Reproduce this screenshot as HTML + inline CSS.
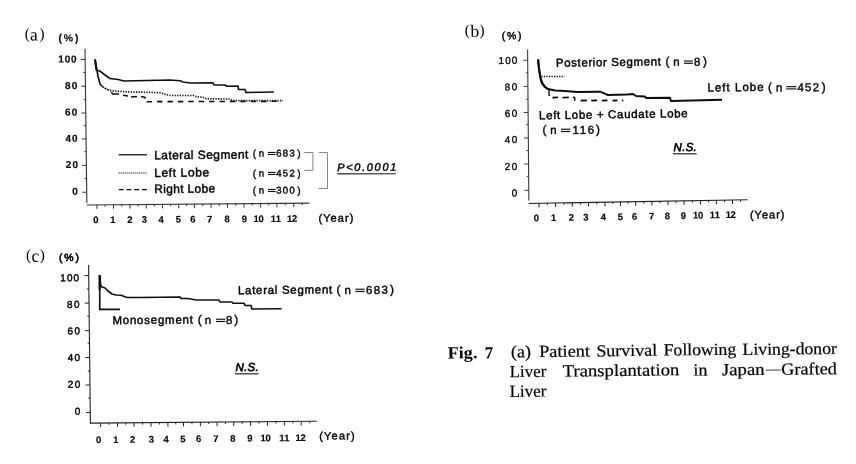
<!DOCTYPE html>
<html lang="en">
<head>
<meta charset="utf-8">
<title>Fig. 7 Patient Survival Following Living-donor Liver Transplantation in Japan - Grafted Liver</title>
<style>
html,body{margin:0;padding:0;background:#fff;}
body{width:856px;height:464px;overflow:hidden;font-family:"Liberation Sans",sans-serif;}
svg{display:block;position:absolute;left:0;top:0;}
svg text{font-family:"Liberation Sans",sans-serif;fill:#000;white-space:pre;}
svg text.sf{font-family:"Liberation Serif",serif;}
</style>
</head>
<body>
<svg width="856" height="464" viewBox="0 0 856 464" text-rendering="geometricPrecision">
<defs><filter id="soft" x="0" y="0" width="856" height="464" filterUnits="userSpaceOnUse"><feGaussianBlur stdDeviation="0.38"/></filter></defs>
<rect x="0" y="0" width="856" height="464" fill="#ffffff"/>
<g filter="url(#soft)">
<line x1="85.00" y1="48.80" x2="86.85" y2="203.00" stroke="#333" stroke-width="1.1"/>
<line x1="86.70" y1="205.00" x2="309.40" y2="203.10" stroke="#333" stroke-width="1.1"/>
<line x1="80.83" y1="59.50" x2="85.13" y2="59.50" stroke="#333" stroke-width="1.0"/>
<line x1="81.15" y1="86.20" x2="85.45" y2="86.20" stroke="#333" stroke-width="1.0"/>
<line x1="81.47" y1="113.00" x2="85.77" y2="113.00" stroke="#333" stroke-width="1.0"/>
<line x1="81.78" y1="138.90" x2="86.08" y2="138.90" stroke="#333" stroke-width="1.0"/>
<line x1="82.10" y1="165.40" x2="86.40" y2="165.40" stroke="#333" stroke-width="1.0"/>
<line x1="82.42" y1="192.25" x2="86.72" y2="192.25" stroke="#333" stroke-width="1.0"/>
<line x1="83.38" y1="72.50" x2="85.28" y2="72.50" stroke="#333" stroke-width="1.0"/>
<line x1="83.71" y1="99.40" x2="85.61" y2="99.40" stroke="#333" stroke-width="1.0"/>
<line x1="84.02" y1="125.60" x2="85.92" y2="125.60" stroke="#333" stroke-width="1.0"/>
<line x1="84.33" y1="151.60" x2="86.23" y2="151.60" stroke="#333" stroke-width="1.0"/>
<line x1="84.66" y1="178.50" x2="86.56" y2="178.50" stroke="#333" stroke-width="1.0"/>
<line x1="96.90" y1="204.91" x2="96.90" y2="208.91" stroke="#333" stroke-width="1.0"/>
<line x1="113.50" y1="204.77" x2="113.50" y2="208.77" stroke="#333" stroke-width="1.0"/>
<line x1="130.00" y1="204.63" x2="130.00" y2="208.63" stroke="#333" stroke-width="1.0"/>
<line x1="146.25" y1="204.49" x2="146.25" y2="208.49" stroke="#333" stroke-width="1.0"/>
<line x1="162.50" y1="204.35" x2="162.50" y2="208.35" stroke="#333" stroke-width="1.0"/>
<line x1="178.75" y1="204.21" x2="178.75" y2="208.21" stroke="#333" stroke-width="1.0"/>
<line x1="194.40" y1="204.08" x2="194.40" y2="208.08" stroke="#333" stroke-width="1.0"/>
<line x1="211.00" y1="203.94" x2="211.00" y2="207.94" stroke="#333" stroke-width="1.0"/>
<line x1="227.50" y1="203.80" x2="227.50" y2="207.80" stroke="#333" stroke-width="1.0"/>
<line x1="244.00" y1="203.66" x2="244.00" y2="207.66" stroke="#333" stroke-width="1.0"/>
<line x1="260.60" y1="203.52" x2="260.60" y2="207.52" stroke="#333" stroke-width="1.0"/>
<line x1="276.90" y1="203.38" x2="276.90" y2="207.38" stroke="#333" stroke-width="1.0"/>
<line x1="293.75" y1="203.23" x2="293.75" y2="207.23" stroke="#333" stroke-width="1.0"/>
<line x1="105.20" y1="204.84" x2="105.20" y2="206.74" stroke="#333" stroke-width="1.0"/>
<line x1="121.75" y1="204.70" x2="121.75" y2="206.60" stroke="#333" stroke-width="1.0"/>
<line x1="138.12" y1="204.56" x2="138.12" y2="206.46" stroke="#333" stroke-width="1.0"/>
<line x1="154.38" y1="204.42" x2="154.38" y2="206.32" stroke="#333" stroke-width="1.0"/>
<line x1="170.62" y1="204.28" x2="170.62" y2="206.18" stroke="#333" stroke-width="1.0"/>
<line x1="186.57" y1="204.15" x2="186.57" y2="206.05" stroke="#333" stroke-width="1.0"/>
<line x1="202.70" y1="204.01" x2="202.70" y2="205.91" stroke="#333" stroke-width="1.0"/>
<line x1="219.25" y1="203.87" x2="219.25" y2="205.77" stroke="#333" stroke-width="1.0"/>
<line x1="235.75" y1="203.73" x2="235.75" y2="205.63" stroke="#333" stroke-width="1.0"/>
<line x1="252.30" y1="203.59" x2="252.30" y2="205.49" stroke="#333" stroke-width="1.0"/>
<line x1="268.75" y1="203.45" x2="268.75" y2="205.35" stroke="#333" stroke-width="1.0"/>
<line x1="285.32" y1="203.31" x2="285.32" y2="205.21" stroke="#333" stroke-width="1.0"/>
<line x1="302.25" y1="203.16" x2="302.25" y2="205.06" stroke="#333" stroke-width="1.0"/>
<text x="58.30" y="62.50" font-size="10.0" font-weight="bold" textLength="18.30" lengthAdjust="spacing" stroke="#000" stroke-width="0.14" transform="rotate(-0.5 58.30 62.50)">100</text>
<text x="65.10" y="89.10" font-size="10.0" font-weight="bold" textLength="12.20" lengthAdjust="spacing" stroke="#000" stroke-width="0.14" transform="rotate(-0.5 65.10 89.10)">80</text>
<text x="65.10" y="115.60" font-size="10.0" font-weight="bold" textLength="12.20" lengthAdjust="spacing" stroke="#000" stroke-width="0.14" transform="rotate(-0.5 65.10 115.60)">60</text>
<text x="65.50" y="141.90" font-size="10.0" font-weight="bold" textLength="12.20" lengthAdjust="spacing" stroke="#000" stroke-width="0.14" transform="rotate(-0.5 65.50 141.90)">40</text>
<text x="65.85" y="168.00" font-size="10.0" font-weight="bold" textLength="12.20" lengthAdjust="spacing" stroke="#000" stroke-width="0.14" transform="rotate(-0.5 65.85 168.00)">20</text>
<text x="77.85" y="194.75" font-size="10.0" font-weight="bold" text-anchor="end" stroke="#000" stroke-width="0.14" transform="rotate(-0.5 77.85 194.75)">0</text>
<text x="95.90" y="223.10" font-size="9.5" font-weight="bold" text-anchor="middle" stroke="#000" stroke-width="0.14" transform="rotate(-0.5 95.90 223.10)">0</text>
<text x="113.00" y="223.00" font-size="9.5" font-weight="bold" text-anchor="middle" stroke="#000" stroke-width="0.14" transform="rotate(-0.5 113.00 223.00)">1</text>
<text x="130.00" y="222.89" font-size="9.5" font-weight="bold" text-anchor="middle" stroke="#000" stroke-width="0.14" transform="rotate(-0.5 130.00 222.89)">2</text>
<text x="144.40" y="222.80" font-size="9.5" font-weight="bold" text-anchor="middle" stroke="#000" stroke-width="0.14" transform="rotate(-0.5 144.40 222.80)">3</text>
<text x="161.25" y="222.70" font-size="9.5" font-weight="bold" text-anchor="middle" stroke="#000" stroke-width="0.14" transform="rotate(-0.5 161.25 222.70)">4</text>
<text x="178.40" y="222.60" font-size="9.5" font-weight="bold" text-anchor="middle" stroke="#000" stroke-width="0.14" transform="rotate(-0.5 178.40 222.60)">5</text>
<text x="193.00" y="222.51" font-size="9.5" font-weight="bold" text-anchor="middle" stroke="#000" stroke-width="0.14" transform="rotate(-0.5 193.00 222.51)">6</text>
<text x="209.75" y="222.41" font-size="9.5" font-weight="bold" text-anchor="middle" stroke="#000" stroke-width="0.14" transform="rotate(-0.5 209.75 222.41)">7</text>
<text x="227.25" y="222.30" font-size="9.5" font-weight="bold" text-anchor="middle" stroke="#000" stroke-width="0.14" transform="rotate(-0.5 227.25 222.30)">8</text>
<text x="244.40" y="222.19" font-size="9.5" font-weight="bold" text-anchor="middle" stroke="#000" stroke-width="0.14" transform="rotate(-0.5 244.40 222.19)">9</text>
<text x="253.60" y="222.11" font-size="9.5" font-weight="bold" textLength="10.20" lengthAdjust="spacing" stroke="#000" stroke-width="0.14" transform="rotate(-0.5 253.60 222.11)">10</text>
<text x="270.85" y="222.00" font-size="9.5" font-weight="bold" textLength="10.20" lengthAdjust="spacing" stroke="#000" stroke-width="0.14" transform="rotate(-0.5 270.85 222.00)">11</text>
<text x="287.00" y="221.90" font-size="9.5" font-weight="bold" textLength="10.20" lengthAdjust="spacing" stroke="#000" stroke-width="0.14" transform="rotate(-0.5 287.00 221.90)">12</text>
<text x="24.65" y="38.80" font-size="15.5" class="sf" transform="rotate(-0.5 24.65 38.80)">(</text>
<text x="29.95" y="40.50" font-size="17.5" class="sf" transform="rotate(-0.5 29.95 40.50)">a</text>
<text x="39.45" y="38.80" font-size="15.5" class="sf" transform="rotate(-0.5 39.45 38.80)">)</text>
<text x="58.60" y="41.60" font-size="10.5" font-weight="bold" textLength="19.80" lengthAdjust="spacing" stroke="#000" stroke-width="0.14" transform="rotate(-0.5 58.60 41.60)">(%)</text>
<text x="318.40" y="221.90" font-size="11" textLength="35.00" lengthAdjust="spacing" stroke="#000" stroke-width="0.39" transform="rotate(-0.5 318.40 221.90)">(Year)</text>
<polyline points="95.00,59.30 95.80,65.00 96.50,70.00 100.00,71.20 105.00,75.00 110.00,78.50 118.00,79.50 124.00,81.00 135.00,80.80 170.00,80.00 180.00,80.80 183.00,82.00 190.00,83.00 213.00,82.80 214.00,85.00 225.00,85.00 227.00,86.30 238.00,86.00 238.50,89.50 245.00,89.50 246.00,92.50 274.00,92.00" fill="none" stroke="#111" stroke-width="1.65" stroke-linejoin="round" stroke-linecap="butt"/>
<polyline points="95.00,59.30 95.80,65.00 96.50,70.00" fill="none" stroke="#111" stroke-width="2.0" stroke-linejoin="round" stroke-linecap="butt"/>
<polyline points="95.60,62.00 96.50,68.00 98.00,76.00 100.00,84.00 102.00,86.30" fill="none" stroke="#111" stroke-width="1.6" stroke-linejoin="round" stroke-linecap="butt"/>
<polyline points="102.00,86.30 103.00,87.00 107.00,89.30 110.00,90.60" fill="none" stroke="#111" stroke-width="1.5" stroke-linejoin="round" stroke-linecap="butt" stroke-dasharray="2.2 0.8"/>
<polyline points="110.00,90.60 115.00,91.00 130.00,92.00 160.00,92.60 165.00,94.30 170.00,95.50 193.50,95.50 196.50,96.80 203.00,97.30 206.50,98.90 230.00,99.00 232.00,100.60 283.00,100.60" fill="none" stroke="#111" stroke-width="1.7" stroke-linejoin="round" stroke-linecap="butt" stroke-dasharray="1.3 1.3"/>
<polyline points="111.30,92.30 112.80,94.00 119.00,94.10" fill="none" stroke="#111" stroke-width="1.5" stroke-linejoin="round" stroke-linecap="butt"/>
<polyline points="123.00,95.20 128.00,96.00" fill="none" stroke="#111" stroke-width="1.5" stroke-linejoin="round" stroke-linecap="butt"/>
<polyline points="131.00,96.90 137.00,96.50" fill="none" stroke="#111" stroke-width="1.5" stroke-linejoin="round" stroke-linecap="butt"/>
<polyline points="141.00,96.60 144.80,97.20 145.60,98.60" fill="none" stroke="#111" stroke-width="1.5" stroke-linejoin="round" stroke-linecap="butt"/>
<polyline points="146.70,101.70 278.00,101.30" fill="none" stroke="#111" stroke-width="1.6" stroke-linejoin="round" stroke-linecap="butt" stroke-dasharray="5.4 5.0"/>
<line x1="118.75" y1="154.80" x2="146.90" y2="154.80" stroke="#111" stroke-width="1.3"/>
<line x1="118.70" y1="173.00" x2="147.20" y2="172.90" stroke="#444" stroke-width="1.5" stroke-dasharray="1 1"/>
<line x1="118.75" y1="189.60" x2="146.90" y2="189.60" stroke="#111" stroke-width="1.4" stroke-dasharray="5 2.72"/>
<text x="154.20" y="159.30" font-size="12" textLength="94.20" lengthAdjust="spacing" stroke="#000" stroke-width="0.44" transform="rotate(-0.5 154.20 159.30)">Lateral Segment</text>
<text x="154.20" y="176.90" font-size="12" textLength="55.00" lengthAdjust="spacing" stroke="#000" stroke-width="0.44" transform="rotate(-0.5 154.20 176.90)">Left Lobe</text>
<text x="154.20" y="193.10" font-size="12" textLength="61.00" lengthAdjust="spacing" stroke="#000" stroke-width="0.44" transform="rotate(-0.5 154.20 193.10)">Right Lobe</text>
<text x="252.70" y="157.10" font-size="10.2" stroke="#000" stroke-width="0.34" transform="rotate(-0.5 252.70 157.10)">(</text>
<text x="258.70" y="156.50" font-size="9.6" stroke="#000" stroke-width="0.39" transform="rotate(-0.5 258.70 156.50)">n</text>
<line x1="268.00" y1="152.45" x2="275.60" y2="152.45" stroke="#111" stroke-width="1.1"/>
<line x1="268.00" y1="154.50" x2="275.60" y2="154.50" stroke="#111" stroke-width="1.1"/>
<text x="276.30" y="156.50" font-size="9.6" textLength="18.45" lengthAdjust="spacing" stroke="#000" stroke-width="0.39" transform="rotate(-0.5 276.30 156.50)">683</text>
<text x="297.25" y="157.10" font-size="10.2" stroke="#000" stroke-width="0.34" transform="rotate(-0.5 297.25 157.10)">)</text>
<text x="252.70" y="177.10" font-size="10.2" stroke="#000" stroke-width="0.34" transform="rotate(-0.5 252.70 177.10)">(</text>
<text x="258.70" y="176.50" font-size="9.6" stroke="#000" stroke-width="0.39" transform="rotate(-0.5 258.70 176.50)">n</text>
<line x1="268.00" y1="172.45" x2="275.60" y2="172.45" stroke="#111" stroke-width="1.1"/>
<line x1="268.00" y1="174.50" x2="275.60" y2="174.50" stroke="#111" stroke-width="1.1"/>
<text x="276.30" y="176.50" font-size="9.6" textLength="18.45" lengthAdjust="spacing" stroke="#000" stroke-width="0.39" transform="rotate(-0.5 276.30 176.50)">452</text>
<text x="297.25" y="177.10" font-size="10.2" stroke="#000" stroke-width="0.34" transform="rotate(-0.5 297.25 177.10)">)</text>
<text x="252.70" y="194.10" font-size="10.2" stroke="#000" stroke-width="0.34" transform="rotate(-0.5 252.70 194.10)">(</text>
<text x="258.70" y="193.50" font-size="9.6" stroke="#000" stroke-width="0.39" transform="rotate(-0.5 258.70 193.50)">n</text>
<line x1="268.00" y1="189.45" x2="275.60" y2="189.45" stroke="#111" stroke-width="1.1"/>
<line x1="268.00" y1="191.50" x2="275.60" y2="191.50" stroke="#111" stroke-width="1.1"/>
<text x="276.30" y="193.50" font-size="9.6" textLength="18.45" lengthAdjust="spacing" stroke="#000" stroke-width="0.39" transform="rotate(-0.5 276.30 193.50)">300</text>
<text x="297.25" y="194.10" font-size="10.2" stroke="#000" stroke-width="0.34" transform="rotate(-0.5 297.25 194.10)">)</text>
<polyline points="304.40,152.50 312.90,152.50 312.90,170.40 304.40,170.40" fill="none" stroke="#777" stroke-width="0.9" stroke-linejoin="miter" stroke-linecap="butt"/>
<polyline points="318.75,152.50 327.50,152.50 327.50,188.50 318.75,188.50" fill="none" stroke="#777" stroke-width="0.9" stroke-linejoin="miter" stroke-linecap="butt"/>
<text x="337.30" y="171.20" font-size="11" font-style="italic" textLength="59.00" lengthAdjust="spacing" stroke="#000" stroke-width="0.44" transform="rotate(-0.5 337.30 171.20)">P&lt;0.0001</text>
<line x1="337.30" y1="173.90" x2="395.80" y2="173.70" stroke="#222" stroke-width="1.1"/>
<line x1="527.60" y1="49.50" x2="528.85" y2="200.60" stroke="#3a3a3a" stroke-width="1.1"/>
<line x1="528.90" y1="203.50" x2="747.50" y2="199.75" stroke="#1c1c1c" stroke-width="1.05"/>
<line x1="523.39" y1="60.25" x2="527.69" y2="60.25" stroke="#3a3a3a" stroke-width="1.0"/>
<line x1="523.61" y1="86.50" x2="527.91" y2="86.50" stroke="#3a3a3a" stroke-width="1.0"/>
<line x1="523.82" y1="112.50" x2="528.12" y2="112.50" stroke="#3a3a3a" stroke-width="1.0"/>
<line x1="524.03" y1="138.00" x2="528.33" y2="138.00" stroke="#3a3a3a" stroke-width="1.0"/>
<line x1="524.25" y1="164.00" x2="528.55" y2="164.00" stroke="#3a3a3a" stroke-width="1.0"/>
<line x1="524.46" y1="190.25" x2="528.76" y2="190.25" stroke="#3a3a3a" stroke-width="1.0"/>
<line x1="525.89" y1="72.75" x2="527.79" y2="72.75" stroke="#3a3a3a" stroke-width="1.0"/>
<line x1="526.11" y1="99.40" x2="528.01" y2="99.40" stroke="#3a3a3a" stroke-width="1.0"/>
<line x1="526.32" y1="124.60" x2="528.22" y2="124.60" stroke="#3a3a3a" stroke-width="1.0"/>
<line x1="526.54" y1="150.60" x2="528.44" y2="150.60" stroke="#3a3a3a" stroke-width="1.0"/>
<line x1="526.75" y1="176.60" x2="528.65" y2="176.60" stroke="#3a3a3a" stroke-width="1.0"/>
<line x1="539.00" y1="203.33" x2="539.00" y2="207.33" stroke="#1c1c1c" stroke-width="1.0"/>
<line x1="555.60" y1="203.04" x2="555.60" y2="207.04" stroke="#1c1c1c" stroke-width="1.0"/>
<line x1="572.25" y1="202.76" x2="572.25" y2="206.76" stroke="#1c1c1c" stroke-width="1.0"/>
<line x1="588.50" y1="202.48" x2="588.50" y2="206.48" stroke="#1c1c1c" stroke-width="1.0"/>
<line x1="605.00" y1="202.19" x2="605.00" y2="206.19" stroke="#1c1c1c" stroke-width="1.0"/>
<line x1="620.50" y1="201.93" x2="620.50" y2="205.93" stroke="#1c1c1c" stroke-width="1.0"/>
<line x1="635.60" y1="201.67" x2="635.60" y2="205.67" stroke="#1c1c1c" stroke-width="1.0"/>
<line x1="651.90" y1="201.39" x2="651.90" y2="205.39" stroke="#1c1c1c" stroke-width="1.0"/>
<line x1="668.10" y1="201.11" x2="668.10" y2="205.11" stroke="#1c1c1c" stroke-width="1.0"/>
<line x1="684.10" y1="200.84" x2="684.10" y2="204.84" stroke="#1c1c1c" stroke-width="1.0"/>
<line x1="700.60" y1="200.55" x2="700.60" y2="204.55" stroke="#1c1c1c" stroke-width="1.0"/>
<line x1="716.40" y1="200.28" x2="716.40" y2="204.28" stroke="#1c1c1c" stroke-width="1.0"/>
<line x1="732.50" y1="200.01" x2="732.50" y2="204.01" stroke="#1c1c1c" stroke-width="1.0"/>
<line x1="547.30" y1="203.18" x2="547.30" y2="205.08" stroke="#1c1c1c" stroke-width="1.0"/>
<line x1="563.92" y1="202.90" x2="563.92" y2="204.80" stroke="#1c1c1c" stroke-width="1.0"/>
<line x1="580.38" y1="202.62" x2="580.38" y2="204.52" stroke="#1c1c1c" stroke-width="1.0"/>
<line x1="596.75" y1="202.34" x2="596.75" y2="204.24" stroke="#1c1c1c" stroke-width="1.0"/>
<line x1="612.75" y1="202.06" x2="612.75" y2="203.96" stroke="#1c1c1c" stroke-width="1.0"/>
<line x1="628.05" y1="201.80" x2="628.05" y2="203.70" stroke="#1c1c1c" stroke-width="1.0"/>
<line x1="643.75" y1="201.53" x2="643.75" y2="203.43" stroke="#1c1c1c" stroke-width="1.0"/>
<line x1="660.00" y1="201.25" x2="660.00" y2="203.15" stroke="#1c1c1c" stroke-width="1.0"/>
<line x1="676.10" y1="200.97" x2="676.10" y2="202.87" stroke="#1c1c1c" stroke-width="1.0"/>
<line x1="692.35" y1="200.70" x2="692.35" y2="202.60" stroke="#1c1c1c" stroke-width="1.0"/>
<line x1="708.50" y1="200.42" x2="708.50" y2="202.32" stroke="#1c1c1c" stroke-width="1.0"/>
<line x1="724.45" y1="200.15" x2="724.45" y2="202.05" stroke="#1c1c1c" stroke-width="1.0"/>
<line x1="740.60" y1="199.87" x2="740.60" y2="201.77" stroke="#1c1c1c" stroke-width="1.0"/>
<text x="498.55" y="64.00" font-size="10.0" textLength="18.75" lengthAdjust="spacing" stroke="#000" stroke-width="0.32" transform="rotate(-0.8 498.55 64.00)">100</text>
<text x="504.80" y="90.40" font-size="10.0" textLength="12.50" lengthAdjust="spacing" stroke="#000" stroke-width="0.32" transform="rotate(-0.8 504.80 90.40)">80</text>
<text x="504.80" y="116.90" font-size="10.0" textLength="12.50" lengthAdjust="spacing" stroke="#000" stroke-width="0.32" transform="rotate(-0.8 504.80 116.90)">60</text>
<text x="504.80" y="143.20" font-size="10.0" textLength="12.50" lengthAdjust="spacing" stroke="#000" stroke-width="0.32" transform="rotate(-0.8 504.80 143.20)">40</text>
<text x="504.80" y="170.00" font-size="10.0" textLength="12.50" lengthAdjust="spacing" stroke="#000" stroke-width="0.32" transform="rotate(-0.8 504.80 170.00)">20</text>
<text x="517.20" y="196.50" font-size="10.0" text-anchor="end" stroke="#000" stroke-width="0.32" transform="rotate(-0.8 517.20 196.50)">0</text>
<text x="536.50" y="221.29" font-size="9.5" font-weight="bold" text-anchor="middle" stroke="#000" stroke-width="0.14" transform="rotate(-0.8 536.50 221.29)">0</text>
<text x="553.75" y="221.01" font-size="9.5" font-weight="bold" text-anchor="middle" stroke="#000" stroke-width="0.14" transform="rotate(-0.8 553.75 221.01)">1</text>
<text x="571.50" y="220.71" font-size="9.5" font-weight="bold" text-anchor="middle" stroke="#000" stroke-width="0.14" transform="rotate(-0.8 571.50 220.71)">2</text>
<text x="586.00" y="220.48" font-size="9.5" font-weight="bold" text-anchor="middle" stroke="#000" stroke-width="0.14" transform="rotate(-0.8 586.00 220.48)">3</text>
<text x="603.40" y="220.19" font-size="9.5" font-weight="bold" text-anchor="middle" stroke="#000" stroke-width="0.14" transform="rotate(-0.8 603.40 220.19)">4</text>
<text x="620.40" y="219.91" font-size="9.5" font-weight="bold" text-anchor="middle" stroke="#000" stroke-width="0.14" transform="rotate(-0.8 620.40 219.91)">5</text>
<text x="634.60" y="219.67" font-size="9.5" font-weight="bold" text-anchor="middle" stroke="#000" stroke-width="0.14" transform="rotate(-0.8 634.60 219.67)">6</text>
<text x="651.60" y="219.39" font-size="9.5" font-weight="bold" text-anchor="middle" stroke="#000" stroke-width="0.14" transform="rotate(-0.8 651.60 219.39)">7</text>
<text x="667.50" y="219.13" font-size="9.5" font-weight="bold" text-anchor="middle" stroke="#000" stroke-width="0.14" transform="rotate(-0.8 667.50 219.13)">8</text>
<text x="683.40" y="218.87" font-size="9.5" font-weight="bold" text-anchor="middle" stroke="#000" stroke-width="0.14" transform="rotate(-0.8 683.40 218.87)">9</text>
<text x="693.00" y="218.62" font-size="9.5" font-weight="bold" textLength="10.20" lengthAdjust="spacing" stroke="#000" stroke-width="0.14" transform="rotate(-0.8 693.00 218.62)">10</text>
<text x="709.80" y="218.34" font-size="9.5" font-weight="bold" textLength="10.20" lengthAdjust="spacing" stroke="#000" stroke-width="0.14" transform="rotate(-0.8 709.80 218.34)">11</text>
<text x="725.70" y="218.08" font-size="9.5" font-weight="bold" textLength="10.20" lengthAdjust="spacing" stroke="#000" stroke-width="0.14" transform="rotate(-0.8 725.70 218.08)">12</text>
<text x="464.65" y="35.30" font-size="15.5" class="sf" transform="rotate(-0.8 464.65 35.30)">(</text>
<text x="470.55" y="37.10" font-size="17.5" class="sf" transform="rotate(-0.8 470.55 37.10)">b</text>
<text x="479.45" y="35.30" font-size="15.5" class="sf" transform="rotate(-0.8 479.45 35.30)">)</text>
<text x="501.80" y="39.30" font-size="10.5" textLength="19.80" lengthAdjust="spacing" stroke="#000" stroke-width="0.44" transform="rotate(-0.8 501.80 39.30)">(%)</text>
<text x="749.90" y="218.70" font-size="11" textLength="34.60" lengthAdjust="spacing" stroke="#000" stroke-width="0.39" transform="rotate(-0.8 749.90 218.70)">(Year)</text>
<polyline points="538.10,59.40 538.60,65.00 539.20,70.00 540.50,78.00 542.00,83.00 545.00,87.00 548.00,89.00 555.00,90.50 565.00,91.00 577.00,92.00 600.00,91.70 603.00,92.80 608.00,95.00 627.00,94.50 633.00,94.00 636.00,96.00 645.00,96.50 646.00,98.00 670.00,97.80 671.00,101.00 722.00,99.80" fill="none" stroke="#111" stroke-width="1.95" stroke-linejoin="round" stroke-linecap="butt"/>
<polyline points="538.10,59.40 538.60,65.00 539.20,70.00 540.50,78.00 542.00,83.00 545.00,87.00 548.00,89.00" fill="none" stroke="#111" stroke-width="2.1" stroke-linejoin="round" stroke-linecap="butt"/>
<line x1="541.25" y1="76.50" x2="564.60" y2="76.50" stroke="#000" stroke-width="1.65" stroke-dasharray="1.25 1.3"/>
<polyline points="549.00,89.50 549.00,95.00 550.20,95.20" fill="none" stroke="#111" stroke-width="1.4" stroke-linejoin="round" stroke-linecap="butt"/>
<line x1="552.50" y1="97.60" x2="558.00" y2="97.40" stroke="#000" stroke-width="1.65"/>
<line x1="562.50" y1="97.60" x2="568.75" y2="97.40" stroke="#000" stroke-width="1.65"/>
<polyline points="573.00,97.30 574.60,97.40 574.80,100.80" fill="none" stroke="#111" stroke-width="1.5" stroke-linejoin="round" stroke-linecap="butt"/>
<line x1="580.60" y1="100.60" x2="586.90" y2="100.40" stroke="#000" stroke-width="1.65"/>
<line x1="591.25" y1="100.60" x2="596.90" y2="100.40" stroke="#000" stroke-width="1.65"/>
<line x1="601.90" y1="100.60" x2="607.50" y2="100.40" stroke="#000" stroke-width="1.65"/>
<line x1="612.50" y1="100.60" x2="617.50" y2="100.40" stroke="#000" stroke-width="1.65"/>
<line x1="621.90" y1="100.60" x2="623.20" y2="100.40" stroke="#000" stroke-width="1.65"/>
<text x="556.00" y="66.80" font-size="11.5" textLength="104.90" lengthAdjust="spacing" stroke="#000" stroke-width="0.44" transform="rotate(-0.8 556.00 66.80)">Posterior Segment</text>
<text x="665.50" y="65.60" font-size="12.0" stroke="#000" stroke-width="0.34" transform="rotate(-0.8 665.50 65.60)">(</text>
<text x="673.30" y="65.80" font-size="11.5" stroke="#000" stroke-width="0.39" transform="rotate(-0.8 673.30 65.80)">n</text>
<line x1="683.90" y1="61.05" x2="692.90" y2="61.05" stroke="#111" stroke-width="1.15"/>
<line x1="683.90" y1="63.30" x2="692.90" y2="63.30" stroke="#111" stroke-width="1.15"/>
<text x="697.08" y="65.80" font-size="11.5" text-anchor="middle" stroke="#000" stroke-width="0.39" transform="rotate(-0.8 697.08 65.80)">8</text>
<text x="702.90" y="65.30" font-size="12.0" stroke="#000" stroke-width="0.34" transform="rotate(-0.8 702.90 65.30)">)</text>
<text x="707.50" y="91.60" font-size="11.5" textLength="56.20" lengthAdjust="spacing" stroke="#000" stroke-width="0.44" transform="rotate(-0.8 707.50 91.60)">Left Lobe</text>
<text x="767.90" y="91.20" font-size="12.0" stroke="#000" stroke-width="0.34" transform="rotate(-0.8 767.90 91.20)">(</text>
<text x="775.95" y="91.40" font-size="11.5" stroke="#000" stroke-width="0.39" transform="rotate(-0.8 775.95 91.40)">n</text>
<line x1="786.20" y1="86.65" x2="796.30" y2="86.65" stroke="#111" stroke-width="1.15"/>
<line x1="786.20" y1="88.90" x2="796.30" y2="88.90" stroke="#111" stroke-width="1.15"/>
<text x="797.40" y="91.40" font-size="11.5" textLength="21.80" lengthAdjust="spacing" stroke="#000" stroke-width="0.39" transform="rotate(-0.8 797.40 91.40)">452</text>
<text x="821.80" y="90.90" font-size="12.0" stroke="#000" stroke-width="0.34" transform="rotate(-0.8 821.80 90.90)">)</text>
<text x="539.10" y="119.30" font-size="11.5" textLength="148.60" lengthAdjust="spacing" stroke="#000" stroke-width="0.44" transform="rotate(-0.8 539.10 119.30)">Left Lobe + Caudate Lobe</text>
<text x="542.50" y="133.80" font-size="12.0" stroke="#000" stroke-width="0.34" transform="rotate(-0.8 542.50 133.80)">(</text>
<text x="550.25" y="134.00" font-size="11.5" stroke="#000" stroke-width="0.39" transform="rotate(-0.8 550.25 134.00)">n</text>
<line x1="561.00" y1="129.25" x2="570.30" y2="129.25" stroke="#111" stroke-width="1.15"/>
<line x1="561.00" y1="131.50" x2="570.30" y2="131.50" stroke="#111" stroke-width="1.15"/>
<text x="572.40" y="134.00" font-size="11.5" textLength="21.80" lengthAdjust="spacing" stroke="#000" stroke-width="0.39" transform="rotate(-0.8 572.40 134.00)">116</text>
<text x="596.10" y="133.50" font-size="12.0" stroke="#000" stroke-width="0.34" transform="rotate(-0.8 596.10 133.50)">)</text>
<text x="673.60" y="151.20" font-size="11.5" font-style="italic" textLength="23.20" lengthAdjust="spacing" stroke="#000" stroke-width="0.64" transform="rotate(-0.8 673.60 151.20)">N.S.</text>
<line x1="673.00" y1="153.80" x2="696.60" y2="153.80" stroke="#222" stroke-width="1.2"/>
<line x1="88.60" y1="265.10" x2="90.40" y2="423.30" stroke="#222" stroke-width="1.1"/>
<line x1="90.00" y1="423.15" x2="316.90" y2="421.25" stroke="#222" stroke-width="1.1"/>
<line x1="84.42" y1="275.60" x2="88.72" y2="275.60" stroke="#222" stroke-width="1.0"/>
<line x1="84.73" y1="303.10" x2="89.03" y2="303.10" stroke="#222" stroke-width="1.0"/>
<line x1="85.05" y1="330.70" x2="89.35" y2="330.70" stroke="#222" stroke-width="1.0"/>
<line x1="85.35" y1="357.50" x2="89.65" y2="357.50" stroke="#222" stroke-width="1.0"/>
<line x1="85.66" y1="385.00" x2="89.96" y2="385.00" stroke="#222" stroke-width="1.0"/>
<line x1="85.98" y1="412.50" x2="90.28" y2="412.50" stroke="#222" stroke-width="1.0"/>
<line x1="86.97" y1="289.00" x2="88.87" y2="289.00" stroke="#222" stroke-width="1.0"/>
<line x1="87.28" y1="316.25" x2="89.18" y2="316.25" stroke="#222" stroke-width="1.0"/>
<line x1="87.59" y1="343.10" x2="89.49" y2="343.10" stroke="#222" stroke-width="1.0"/>
<line x1="87.90" y1="371.00" x2="89.80" y2="371.00" stroke="#222" stroke-width="1.0"/>
<line x1="88.21" y1="398.10" x2="90.11" y2="398.10" stroke="#222" stroke-width="1.0"/>
<line x1="100.60" y1="423.06" x2="100.60" y2="427.06" stroke="#222" stroke-width="1.0"/>
<line x1="117.50" y1="422.92" x2="117.50" y2="426.92" stroke="#222" stroke-width="1.0"/>
<line x1="134.00" y1="422.78" x2="134.00" y2="426.78" stroke="#222" stroke-width="1.0"/>
<line x1="151.00" y1="422.64" x2="151.00" y2="426.64" stroke="#222" stroke-width="1.0"/>
<line x1="167.90" y1="422.50" x2="167.90" y2="426.50" stroke="#222" stroke-width="1.0"/>
<line x1="183.50" y1="422.37" x2="183.50" y2="426.37" stroke="#222" stroke-width="1.0"/>
<line x1="200.40" y1="422.23" x2="200.40" y2="426.23" stroke="#222" stroke-width="1.0"/>
<line x1="217.10" y1="422.09" x2="217.10" y2="426.09" stroke="#222" stroke-width="1.0"/>
<line x1="233.75" y1="421.95" x2="233.75" y2="425.95" stroke="#222" stroke-width="1.0"/>
<line x1="250.60" y1="421.81" x2="250.60" y2="425.81" stroke="#222" stroke-width="1.0"/>
<line x1="267.50" y1="421.66" x2="267.50" y2="425.66" stroke="#222" stroke-width="1.0"/>
<line x1="284.40" y1="421.52" x2="284.40" y2="425.52" stroke="#222" stroke-width="1.0"/>
<line x1="301.25" y1="421.38" x2="301.25" y2="425.38" stroke="#222" stroke-width="1.0"/>
<line x1="109.05" y1="422.99" x2="109.05" y2="424.89" stroke="#222" stroke-width="1.0"/>
<line x1="125.75" y1="422.85" x2="125.75" y2="424.75" stroke="#222" stroke-width="1.0"/>
<line x1="142.50" y1="422.71" x2="142.50" y2="424.61" stroke="#222" stroke-width="1.0"/>
<line x1="159.45" y1="422.57" x2="159.45" y2="424.47" stroke="#222" stroke-width="1.0"/>
<line x1="175.70" y1="422.43" x2="175.70" y2="424.33" stroke="#222" stroke-width="1.0"/>
<line x1="191.95" y1="422.30" x2="191.95" y2="424.20" stroke="#222" stroke-width="1.0"/>
<line x1="208.75" y1="422.16" x2="208.75" y2="424.06" stroke="#222" stroke-width="1.0"/>
<line x1="225.43" y1="422.02" x2="225.43" y2="423.92" stroke="#222" stroke-width="1.0"/>
<line x1="242.18" y1="421.88" x2="242.18" y2="423.78" stroke="#222" stroke-width="1.0"/>
<line x1="259.05" y1="421.73" x2="259.05" y2="423.63" stroke="#222" stroke-width="1.0"/>
<line x1="275.95" y1="421.59" x2="275.95" y2="423.49" stroke="#222" stroke-width="1.0"/>
<line x1="292.82" y1="421.45" x2="292.82" y2="423.35" stroke="#222" stroke-width="1.0"/>
<line x1="309.75" y1="421.31" x2="309.75" y2="423.21" stroke="#222" stroke-width="1.0"/>
<text x="60.35" y="281.25" font-size="10.0" textLength="18.75" lengthAdjust="spacing" stroke="#000" stroke-width="0.42" transform="rotate(-0.5 60.35 281.25)">100</text>
<text x="67.00" y="307.90" font-size="10.0" textLength="12.50" lengthAdjust="spacing" stroke="#000" stroke-width="0.42" transform="rotate(-0.5 67.00 307.90)">80</text>
<text x="67.50" y="334.40" font-size="10.0" textLength="12.50" lengthAdjust="spacing" stroke="#000" stroke-width="0.42" transform="rotate(-0.5 67.50 334.40)">60</text>
<text x="67.70" y="361.00" font-size="10.0" textLength="12.50" lengthAdjust="spacing" stroke="#000" stroke-width="0.42" transform="rotate(-0.5 67.70 361.00)">40</text>
<text x="67.80" y="387.75" font-size="10.0" textLength="12.50" lengthAdjust="spacing" stroke="#000" stroke-width="0.42" transform="rotate(-0.5 67.80 387.75)">20</text>
<text x="80.40" y="414.60" font-size="10.0" text-anchor="end" stroke="#000" stroke-width="0.42" transform="rotate(-0.5 80.40 414.60)">0</text>
<text x="98.75" y="443.09" font-size="9.5" font-weight="bold" text-anchor="middle" stroke="#000" stroke-width="0.14" transform="rotate(-0.5 98.75 443.09)">0</text>
<text x="116.00" y="442.91" font-size="9.5" font-weight="bold" text-anchor="middle" stroke="#000" stroke-width="0.14" transform="rotate(-0.5 116.00 442.91)">1</text>
<text x="132.75" y="442.74" font-size="9.5" font-weight="bold" text-anchor="middle" stroke="#000" stroke-width="0.14" transform="rotate(-0.5 132.75 442.74)">2</text>
<text x="151.50" y="442.55" font-size="9.5" font-weight="bold" text-anchor="middle" stroke="#000" stroke-width="0.14" transform="rotate(-0.5 151.50 442.55)">3</text>
<text x="166.25" y="442.40" font-size="9.5" font-weight="bold" text-anchor="middle" stroke="#000" stroke-width="0.14" transform="rotate(-0.5 166.25 442.40)">4</text>
<text x="182.80" y="442.23" font-size="9.5" font-weight="bold" text-anchor="middle" stroke="#000" stroke-width="0.14" transform="rotate(-0.5 182.80 442.23)">5</text>
<text x="198.75" y="442.06" font-size="9.5" font-weight="bold" text-anchor="middle" stroke="#000" stroke-width="0.14" transform="rotate(-0.5 198.75 442.06)">6</text>
<text x="215.90" y="441.89" font-size="9.5" font-weight="bold" text-anchor="middle" stroke="#000" stroke-width="0.14" transform="rotate(-0.5 215.90 441.89)">7</text>
<text x="232.90" y="441.71" font-size="9.5" font-weight="bold" text-anchor="middle" stroke="#000" stroke-width="0.14" transform="rotate(-0.5 232.90 441.71)">8</text>
<text x="250.00" y="441.53" font-size="9.5" font-weight="bold" text-anchor="middle" stroke="#000" stroke-width="0.14" transform="rotate(-0.5 250.00 441.53)">9</text>
<text x="260.60" y="441.37" font-size="9.5" font-weight="bold" textLength="10.20" lengthAdjust="spacing" stroke="#000" stroke-width="0.14" transform="rotate(-0.5 260.60 441.37)">10</text>
<text x="279.30" y="441.18" font-size="9.5" font-weight="bold" textLength="10.20" lengthAdjust="spacing" stroke="#000" stroke-width="0.14" transform="rotate(-0.5 279.30 441.18)">11</text>
<text x="295.60" y="441.01" font-size="9.5" font-weight="bold" textLength="10.20" lengthAdjust="spacing" stroke="#000" stroke-width="0.14" transform="rotate(-0.5 295.60 441.01)">12</text>
<text x="25.95" y="260.10" font-size="15.5" class="sf" transform="rotate(-0.5 25.95 260.10)">(</text>
<text x="31.45" y="261.80" font-size="17.5" class="sf" transform="rotate(-0.5 31.45 261.80)">c</text>
<text x="39.75" y="260.10" font-size="15.5" class="sf" transform="rotate(-0.5 39.75 260.10)">)</text>
<text x="58.90" y="261.00" font-size="10.5" textLength="20.00" lengthAdjust="spacing" stroke="#000" stroke-width="0.59" transform="rotate(-0.5 58.90 261.00)">(%)</text>
<text x="319.30" y="439.70" font-size="11" textLength="35.40" lengthAdjust="spacing" stroke="#000" stroke-width="0.39" transform="rotate(-0.5 319.30 439.70)">(Year)</text>
<polyline points="99.75,275.25 99.75,309.40 120.00,309.40" fill="none" stroke="#111" stroke-width="1.65" stroke-linejoin="miter" stroke-linecap="butt"/>
<polyline points="99.60,275.00 99.75,290.00" fill="none" stroke="#111" stroke-width="2.2" stroke-linejoin="round" stroke-linecap="butt"/>
<polyline points="99.75,275.25 100.30,282.00 101.00,286.50 105.00,288.00 108.00,291.00 112.00,294.00 116.00,295.00 121.00,295.30 127.00,297.50 140.00,297.50 180.00,297.00 181.00,298.50 188.00,298.50 196.00,300.00 219.00,300.00 220.00,302.00 232.00,302.00 233.00,303.20 244.00,303.20 245.00,305.50 251.00,305.50 252.00,309.00 281.60,308.70" fill="none" stroke="#111" stroke-width="1.65" stroke-linejoin="round" stroke-linecap="butt"/>
<text x="238.00" y="294.20" font-size="11.5" textLength="94.20" lengthAdjust="spacing" stroke="#000" stroke-width="0.44" transform="rotate(-0.5 238.00 294.20)">Lateral Segment</text>
<text x="336.60" y="293.80" font-size="12.0" stroke="#000" stroke-width="0.34" transform="rotate(-0.5 336.60 293.80)">(</text>
<text x="344.45" y="294.00" font-size="11.5" stroke="#000" stroke-width="0.39" transform="rotate(-0.5 344.45 294.00)">n</text>
<line x1="355.40" y1="289.25" x2="364.70" y2="289.25" stroke="#111" stroke-width="1.15"/>
<line x1="355.40" y1="291.50" x2="364.70" y2="291.50" stroke="#111" stroke-width="1.15"/>
<text x="366.00" y="294.00" font-size="11.5" textLength="22.00" lengthAdjust="spacing" stroke="#000" stroke-width="0.39" transform="rotate(-0.5 366.00 294.00)">683</text>
<text x="390.10" y="293.50" font-size="12.0" stroke="#000" stroke-width="0.34" transform="rotate(-0.5 390.10 293.50)">)</text>
<text x="112.40" y="324.20" font-size="11.5" textLength="80.60" lengthAdjust="spacing" stroke="#000" stroke-width="0.44" transform="rotate(-0.5 112.40 324.20)">Monosegment</text>
<text x="197.70" y="323.80" font-size="12.0" stroke="#000" stroke-width="0.34" transform="rotate(-0.5 197.70 323.80)">(</text>
<text x="204.65" y="324.00" font-size="11.5" stroke="#000" stroke-width="0.39" transform="rotate(-0.5 204.65 324.00)">n</text>
<line x1="216.00" y1="319.25" x2="225.30" y2="319.25" stroke="#111" stroke-width="1.15"/>
<line x1="216.00" y1="321.50" x2="225.30" y2="321.50" stroke="#111" stroke-width="1.15"/>
<text x="229.25" y="324.00" font-size="11.5" text-anchor="middle" stroke="#000" stroke-width="0.39" transform="rotate(-0.5 229.25 324.00)">8</text>
<text x="234.30" y="323.50" font-size="12.0" stroke="#000" stroke-width="0.34" transform="rotate(-0.5 234.30 323.50)">)</text>
<text x="235.50" y="371.20" font-size="11.5" font-style="italic" textLength="23.20" lengthAdjust="spacing" stroke="#000" stroke-width="0.64" transform="rotate(-0.5 235.50 371.20)">N.S.</text>
<line x1="235.00" y1="373.80" x2="258.60" y2="373.80" stroke="#222" stroke-width="1.2"/>
<text x="447.80" y="358.50" font-size="17" font-weight="bold" class="sf" textLength="29.60" lengthAdjust="spacingAndGlyphs" fill="#1a1a1a" transform="rotate(-0.7 447.80 358.50)">Fig.</text>
<text x="484.80" y="358.40" font-size="17" font-weight="bold" class="sf" fill="#1a1a1a" transform="rotate(-0.7 484.80 358.40)">7</text>
<text x="511.10" y="357.30" font-size="17" class="sf" textLength="20.00" lengthAdjust="spacingAndGlyphs" stroke="#111" stroke-width="0.22" fill="#111" transform="rotate(-0.7 511.10 357.30)">(a)</text>
<text x="539.20" y="357.00" font-size="17" class="sf" textLength="50.80" lengthAdjust="spacingAndGlyphs" stroke="#111" stroke-width="0.22" fill="#111" transform="rotate(-0.7 539.20 357.00)">Patient</text>
<text x="596.40" y="356.40" font-size="17" class="sf" textLength="60.80" lengthAdjust="spacingAndGlyphs" stroke="#111" stroke-width="0.22" fill="#111" transform="rotate(-0.7 596.40 356.40)">Survival</text>
<text x="663.80" y="355.60" font-size="17" class="sf" textLength="72.40" lengthAdjust="spacingAndGlyphs" stroke="#111" stroke-width="0.22" fill="#111" transform="rotate(-0.7 663.80 355.60)">Following</text>
<text x="742.60" y="355.00" font-size="17" class="sf" textLength="94.30" lengthAdjust="spacingAndGlyphs" stroke="#111" stroke-width="0.22" fill="#111" transform="rotate(-0.7 742.60 355.00)">Living-donor</text>
<text x="509.80" y="377.20" font-size="17" class="sf" textLength="36.60" lengthAdjust="spacingAndGlyphs" stroke="#111" stroke-width="0.22" fill="#111" transform="rotate(-0.7 509.80 377.20)">Liver</text>
<text x="562.70" y="376.60" font-size="17" class="sf" textLength="116.70" lengthAdjust="spacingAndGlyphs" stroke="#111" stroke-width="0.22" fill="#111" transform="rotate(-0.7 562.70 376.60)">Transplantation</text>
<text x="693.60" y="375.60" font-size="17" class="sf" textLength="14.00" lengthAdjust="spacingAndGlyphs" stroke="#111" stroke-width="0.22" fill="#111" transform="rotate(-0.7 693.60 375.60)">in</text>
<text x="722.00" y="375.30" font-size="17" class="sf" textLength="42.60" lengthAdjust="spacingAndGlyphs" stroke="#111" stroke-width="0.22" fill="#111" transform="rotate(-0.7 722.00 375.30)">Japan</text>
<line x1="765.70" y1="370.20" x2="781.20" y2="370.00" stroke="#222" stroke-width="0.85"/>
<text x="781.30" y="374.80" font-size="17" class="sf" textLength="55.60" lengthAdjust="spacingAndGlyphs" stroke="#111" stroke-width="0.22" fill="#111" transform="rotate(-0.7 781.30 374.80)">Grafted</text>
<text x="509.80" y="397.00" font-size="17" class="sf" textLength="36.60" lengthAdjust="spacingAndGlyphs" stroke="#111" stroke-width="0.22" fill="#111" transform="rotate(-0.7 509.80 397.00)">Liver</text>
</g>
</svg>
</body>
</html>
